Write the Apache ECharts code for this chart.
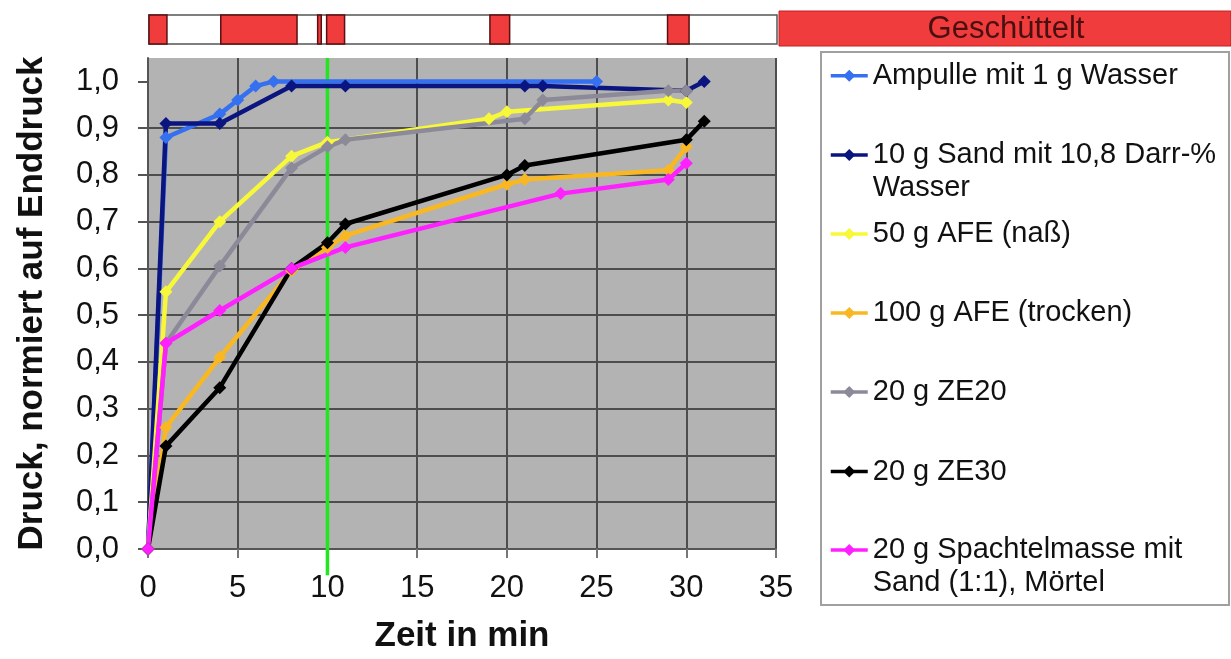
<!DOCTYPE html>
<html>
<head>
<meta charset="utf-8">
<script src="https://cdn.jsdelivr.net/npm/echarts@6/dist/echarts.min.js"></script>
<style>html,body{margin:0;padding:0;background:#fff}#c{width:1231px;height:659px}</style>
</head>
<body>
<div id="c"></div>
<script>
// ---- data ----
const seriesNames = [
  'Ampulle mit 1 g Wasser',
  '10 g Sand mit 10,8 Darr-% Wasser',
  '50 g AFE (naß)',
  '100 g AFE (trocken)',
  '20 g ZE20',
  '20 g ZE30',
  '20 g Spachtelmasse mit Sand (1:1), Mörtel'
];
const legendLines = [
  ['Ampulle mit 1 g Wasser'],
  ['10 g Sand mit 10,8 Darr-%', 'Wasser'],
  ['50 g AFE (naß)'],
  ['100 g AFE (trocken)'],
  ['20 g ZE20'],
  ['20 g ZE30'],
  ['20 g Spachtelmasse mit', 'Sand (1:1), Mörtel']
];
const ampulle   = [[0,0],[1,0.88],[4,0.93],[5,0.96],[6,0.99],[7,1.0],[25,1.0]];
const sand      = [[0,0],[1,0.91],[4,0.91],[8,0.99],[11,0.99],[21,0.99],[22,0.99],[30,0.98],[31,1.0]];
const afeNass   = [[0,0],[1,0.55],[4,0.70],[8,0.84],[10,0.87],[19,0.92],[20,0.935],[29,0.96],[30,0.955]];
const afeTrocken= [[0,0],[1,0.26],[4,0.41],[8,0.595],[10,0.645],[11,0.67],[20,0.78],[21,0.79],[29,0.81],[30,0.86]];
const ze20      = [[0,0],[1,0.44],[4,0.605],[8,0.815],[10,0.86],[11,0.875],[21,0.92],[22,0.96],[29,0.98],[30,0.98]];
const ze30      = [[0,0],[1,0.22],[4,0.345],[8,0.60],[10,0.655],[11,0.695],[20,0.80],[21,0.82],[30,0.875],[31,0.915]];
const spachtel  = [[0,0],[1,0.44],[4,0.51],[8,0.60],[11,0.645],[23,0.76],[29,0.79],[30,0.825]];
const seriesData = [ampulle, sand, afeNass, afeTrocken, ze20, ze30, spachtel];
const seriesColors = ['#3470f0','#0a1580','#f8f83a','#f9b822','#8c8a98','#000000','#ff20ff'];
const markerLine = [[10,-0.056],[10,1.05]];
const shakeIntervals = [[0,1],[4,8.25],[9.4,9.6],[9.9,10.9],[19,20.1],[28.9,30.1]];
const yTicks = [0,0.1,0.2,0.3,0.4,0.5,0.6,0.7,0.8,0.9,1.0];
const legendCenters = [75.7,155,234,313,392,471.5,550];

const FONT = 'Liberation Sans';
const chart = echarts.init(document.getElementById('c'));

const lineSeries = seriesNames.map((n, i) => ({
  type: 'line', name: n, data: seriesData[i], xAxisIndex: 0, yAxisIndex: 0,
  symbol: 'diamond', symbolSize: 13, showSymbol: true,
  lineStyle: {color: seriesColors[i], width: 4.5},
  itemStyle: {color: seriesColors[i]},
  emphasis: {disabled: true}, animation: false
}));

const legends = seriesNames.map((n, i) => {
  const lines = legendLines[i];
  const two = lines.length > 1;
  return {
    data: [n], left: 829, top: two ? legendCenters[i] - 49.5 : legendCenters[i] - 16.5,
    padding: 0, itemWidth: 37, itemHeight: 15, selectedMode: false,
    lineStyle: {width: 3.5},
    formatter: () => two ? '\n' + lines[0] + '\n' + lines[1] : lines[0],
    textStyle: {fontFamily: FONT, fontSize: 29, color: '#111', lineHeight: 33}
  };
});

chart.setOption({
  animation: false,
  grid: [
    {left: 148, right: 455, top: 58, bottom: 107, show: true, backgroundColor: '#b3b3b3', borderWidth: 0},
    {left: 149, right: 454, top: 15, height: 29, show: true, backgroundColor: '#ffffff', borderColor: '#555', borderWidth: 1.5}
  ],
  xAxis: [
    {type: 'value', gridIndex: 0, min: 0, max: 35, interval: 5,
     name: 'Zeit in min', nameLocation: 'middle', nameGap: 70,
     nameTextStyle: {fontFamily: FONT, fontSize: 35, fontWeight: 'bold', color: '#111'},
     axisLine: {show: true, lineStyle: {color: '#555', width: 2}},
     axisTick: {show: true, length: 9, lineStyle: {color: '#777', width: 2}},
     axisLabel: {fontFamily: FONT, fontSize: 31, color: '#111', margin: 24},
     splitLine: {show: true, lineStyle: {color: '#4d4d4d', width: 2}}},
    {type: 'value', gridIndex: 1, min: 0, max: 35, show: false}
  ],
  yAxis: [
    {type: 'value', gridIndex: 0, min: 0, max: 1.05, interval: 0.1,
     name: 'Druck, normiert auf Enddruck', nameLocation: 'middle', nameGap: 98, nameRotate: 90,
     nameTextStyle: {fontFamily: FONT, fontSize: 35, fontWeight: 'bold', color: '#111'},
     axisLine: {show: true, lineStyle: {color: '#555', width: 2}},
     axisTick: {show: true, length: 10, customValues: yTicks, lineStyle: {color: '#555', width: 2}},
     axisLabel: {fontFamily: FONT, fontSize: 31, color: '#111', margin: 29,
                 customValues: yTicks,
                 formatter: v => v.toFixed(1).replace('.', ',')},
     splitLine: {show: true, showMaxLine: false, lineStyle: {color: '#4d4d4d', width: 2}}},
    {type: 'value', gridIndex: 1, min: 0, max: 1, show: false}
  ],
  legend: legends,
  graphic: [
    {type: 'rect', shape: {x: 779, y: 11, width: 452, height: 35},
     style: {fill: '#f03c3c', stroke: '#c02020', lineWidth: 1}},
    {type: 'text', x: 1006, y: 29,
     style: {text: 'Geschüttelt', fontFamily: FONT, fontSize: 31, fill: '#4a1010', align: 'center', verticalAlign: 'middle'}},
    {type: 'rect', shape: {x: 821, y: 52, width: 408, height: 553},
     style: {fill: 'none', stroke: '#a0a0a0', lineWidth: 2}}
  ],
  series: [
    {type: 'line', name: 'marker', data: markerLine, xAxisIndex: 0, yAxisIndex: 0, clip: false,
     symbol: 'none', lineStyle: {color: '#22e622', width: 3.5}, silent: true, z: 1},
    {type: 'custom', name: 'shake', xAxisIndex: 1, yAxisIndex: 1, data: shakeIntervals,
     encode: {x: [0, 1]}, silent: true,
     renderItem: (params, api) => {
       const p0 = api.coord([api.value(0), 1]);
       const p1 = api.coord([api.value(1), 0]);
       return {type: 'rect', shape: {x: p0[0], y: p0[1], width: p1[0] - p0[0], height: p1[1] - p0[1]},
               style: {fill: '#f03c3c', stroke: '#5a1010', lineWidth: 1.5}};
     }},
    ...lineSeries
  ]
});
</script>
</body>
</html>
